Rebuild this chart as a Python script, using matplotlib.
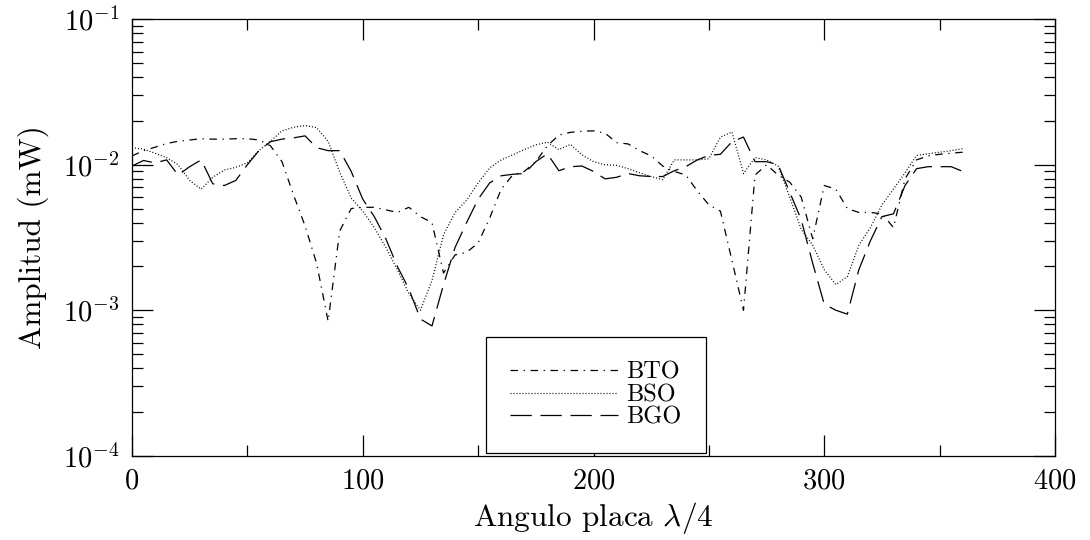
import numpy as np
import matplotlib
matplotlib.use("Agg")
import matplotlib.pyplot as plt
from matplotlib.ticker import MultipleLocator, LogLocator, NullFormatter

plt.rcParams['font.family'] = 'serif'
plt.rcParams['font.serif'] = ['cmr10', 'DejaVu Serif']
plt.rcParams['mathtext.fontset'] = 'cm'
plt.rcParams['axes.formatter.use_mathtext'] = True

# angle of the quarter-wave plate (degrees)
angulo = list(range(0, 365, 5))

bto = [0.0115, 0.0125, 0.0132, 0.0140, 0.0145, 0.0148, 0.0151, 0.0150, 0.0150, 0.0151,
       0.0151, 0.0148, 0.0135, 0.0105, 0.0062, 0.0038, 0.0021, 0.00084, 0.0035, 0.0050,
       0.0051, 0.0051, 0.0049, 0.0047, 0.0051, 0.0044, 0.0040, 0.0018, 0.0024, 0.0025,
       0.0029, 0.0043, 0.0068, 0.0085, 0.0090, 0.0105, 0.0135, 0.0160, 0.0167, 0.0170,
       0.0171, 0.0165, 0.0142, 0.0139, 0.0125, 0.0115, 0.0098, 0.0090, 0.0085, 0.0066,
       0.0053, 0.0048, 0.0022, 0.0010, 0.0085, 0.0100, 0.0085, 0.0076, 0.0060, 0.0031,
       0.0072, 0.0068, 0.0050, 0.0047, 0.0047, 0.0046, 0.0037, 0.0080, 0.0108, 0.0115,
       0.0118, 0.0120, 0.0122]

bso = [0.0131, 0.0128, 0.0120, 0.0112, 0.0100, 0.0078, 0.0068, 0.0082, 0.0092, 0.0096,
       0.0103, 0.0125, 0.0145, 0.0171, 0.0181, 0.0186, 0.0180, 0.0145, 0.0089, 0.0059,
       0.0048, 0.0037, 0.0027, 0.0019, 0.0013, 0.0010, 0.0016, 0.0033, 0.0047, 0.0057,
       0.0075, 0.0095, 0.0108, 0.0117, 0.0127, 0.0137, 0.0143, 0.0127, 0.0138, 0.0117,
       0.0105, 0.0100, 0.0099, 0.0094, 0.0088, 0.0083, 0.0079, 0.0108, 0.0108, 0.0108,
       0.0110, 0.0155, 0.0168, 0.0087, 0.0112, 0.0108, 0.0098, 0.0060, 0.0036, 0.0028,
       0.0019, 0.0015, 0.0017, 0.0028, 0.0037, 0.0053, 0.0068, 0.0088, 0.0116, 0.0119,
       0.0122, 0.0125, 0.0129]

bgo = [0.0098, 0.0107, 0.0103, 0.0108, 0.0085, 0.0097, 0.0108, 0.0074, 0.0072, 0.0078,
       0.0100, 0.0125, 0.0144, 0.0150, 0.0153, 0.0158, 0.0131, 0.0125, 0.0125, 0.0090,
       0.0058, 0.0044, 0.0031, 0.0020, 0.0014, 0.00087, 0.00078, 0.0015, 0.0027, 0.0040,
       0.0058, 0.0075, 0.0084, 0.0086, 0.0087, 0.0105, 0.0119, 0.0091, 0.0097, 0.0098,
       0.0090, 0.0080, 0.0082, 0.0087, 0.0084, 0.0083, 0.0083, 0.0091, 0.0097, 0.0108,
       0.0116, 0.0118, 0.0144, 0.0155, 0.0105, 0.0105, 0.0100, 0.0065, 0.0042, 0.0021,
       0.0011, 0.0010, 0.00094, 0.0019, 0.0030, 0.0044, 0.0046, 0.0072, 0.0094, 0.0097,
       0.0097, 0.0097, 0.0090]

fig = plt.figure(figsize=(10.9, 5.4), dpi=100)
ax = fig.add_axes([0.1211, 0.1561, 0.8468, 0.8082])

ax.plot(angulo, bto, color='black', lw=0.9, linestyle=(0, (6, 4.5, 1, 4.5)), label='BTO')
ax.plot(angulo, bso, color='black', lw=0.9, linestyle=(0, (0.8, 1.6)), label='BSO')
ax.plot(angulo, bgo, color='black', lw=0.9, linestyle=(0, (17, 7)), label='BGO')

ax.set_yscale('log')
ax.set_xlim(0, 400)
ax.set_ylim(1e-4, 1e-1)
ax.xaxis.set_major_locator(MultipleLocator(100))
ax.xaxis.set_minor_locator(MultipleLocator(50))
ax.yaxis.set_major_locator(LogLocator(base=10, numticks=10))
ax.yaxis.set_minor_locator(LogLocator(base=10, subs=np.arange(2, 10), numticks=10))
ax.yaxis.set_minor_formatter(NullFormatter())

ax.tick_params(which='both', direction='in', top=True, right=True, labelsize=20.5, width=0.9)
ax.tick_params(which='major', length=15, pad=9)
ax.tick_params(which='minor', length=8)
for s in ax.spines.values():
    s.set_linewidth(0.9)

ax.set_xlabel(r'Angulo placa $\lambda/4$', fontsize=22.5, labelpad=4)
ax.set_ylabel('Amplitud (mW)', fontsize=22.5, labelpad=10)

leg = ax.legend(loc='lower left', bbox_to_anchor=(0.383, 0.006), borderaxespad=0,
                fontsize=17.5, handlelength=4.45, handletextpad=0.33, labelspacing=0.02,
                borderpad=1.0, fancybox=False, edgecolor='black', framealpha=1)
leg.get_frame().set_linewidth(0.9)

fig.savefig('out.png', dpi=100)
